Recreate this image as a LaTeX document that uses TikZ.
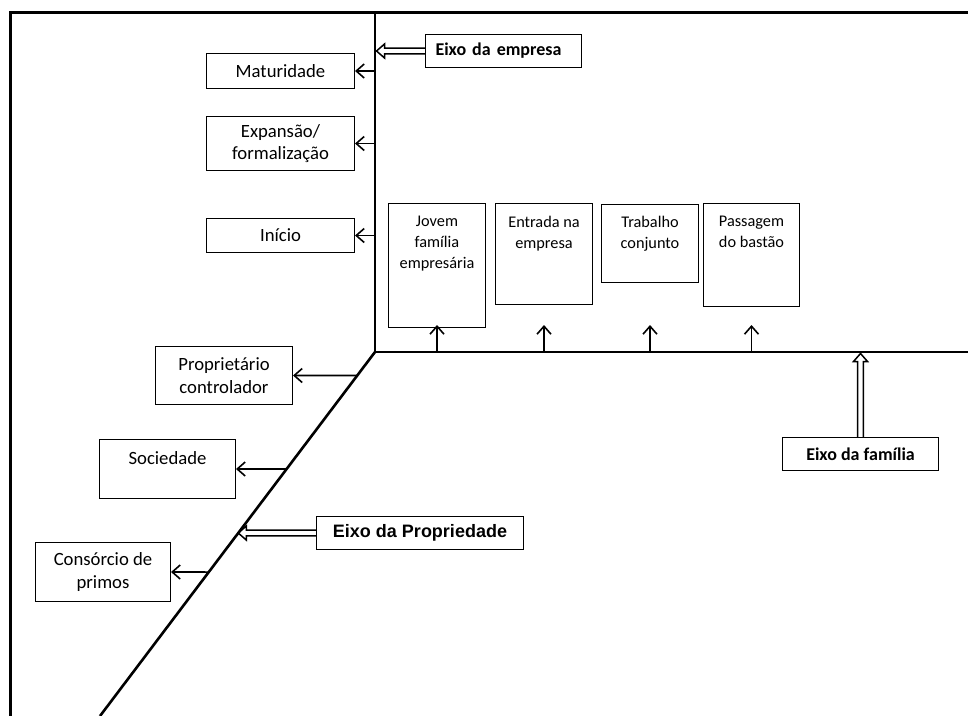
\documentclass[tikz,border=0pt]{standalone}
\usepackage{fontspec}
\setmainfont{Carlito}
\newfontfamily\arialfont{Liberation Sans}
\usetikzlibrary{arrows.meta,calc}

\tikzset{
  stage/.style={draw, line width=1pt, anchor=north west, inner sep=0pt, align=center, font=\fontsize{18.7}{22.5}\selectfont},
  stagetext/.style={anchor=north, inner sep=0pt, align=center, font=\fontsize{16.3}{21}\selectfont},
  eixo/.style={draw, line width=1pt, anchor=north west, inner sep=0pt, minimum height=33pt, font=\bfseries\fontsize{18}{22}\selectfont},
  axisline/.style={line width=2.6pt},
  smallarr/.style={-{Straight Barb[length=8pt,width=14pt,line width=1.6pt]}, line width=1.6pt},
  hollowarr/.style={line width=1.5pt, line join=miter, to path={
    ($(\tikztostart)!2.8pt!90:(\tikztotarget)$)
    -- ($($(\tikztotarget)!8pt!(\tikztostart)$)!2.8pt!90:(\tikztotarget)$)
    -- ($($(\tikztotarget)!8pt!(\tikztostart)$)!7pt!90:(\tikztotarget)$)
    -- (\tikztotarget)
    -- ($($(\tikztotarget)!8pt!(\tikztostart)$)!7pt!-90:(\tikztotarget)$)
    -- ($($(\tikztotarget)!8pt!(\tikztostart)$)!2.8pt!-90:(\tikztotarget)$)
    -- ($(\tikztostart)!2.8pt!-90:(\tikztotarget)$)}},
}

\begin{document}
\begin{tikzpicture}[x=1pt, y=-1pt]
  \useasboundingbox (0,0) rectangle (968,715);
  % frame and the three axes
  \draw[line width=3pt] (10,716) -- (10,12) -- (969,12);
  \coordinate (O) at (375,352);
  \coordinate (top) at (375,12);
  \coordinate (right) at (969,352);
  \coordinate (low) at (100,716);
  \coordinate (tips) at (0,325);
  \draw[axisline] (top) -- (O) -- (right);
  \draw[axisline] (O) -- (low);

  % eixo da empresa
  \node[eixo, text width=136pt, inner xsep=10pt, align=left] (emp) at (425,34) {Eixo da empresa};
  \node[stage, minimum width=148pt, minimum height=35pt] (mat) at (206,53) {Maturidade};
  \node[stage, minimum width=148pt, minimum height=54pt] (exp) at (206,116) {Expansão/\\formalização};
  \node[stage, minimum width=148pt, minimum height=34pt] (ini) at (206,218) {Início};
  \coordinate (empaxis) at ([xshift=1.5pt]O |- emp.west);
  \draw[hollowarr] (emp.west) to (empaxis);
  \draw[smallarr] (O |- mat.east) -- (mat.east);
  \draw[smallarr] (O |- exp.east) -- (exp.east);
  \draw[smallarr] (O |- ini.east) -- (ini.east);

  % eixo da familia
  \node[stage, minimum width=97pt, minimum height=124pt] (jovem) at (388,203) {};
  \node[stagetext] (jovem-t) at ([yshift=-13pt]jovem.north) {Jovem\\família\\empresária};
  \node[stage, minimum width=97pt, minimum height=101pt] (entrada) at (495,203) {};
  \node[stagetext] (entrada-t) at ([yshift=-13pt]entrada.north) {Entrada na\\empresa};
  \node[stage, minimum width=97pt, minimum height=78pt] (trab) at (601,204) {};
  \node[stagetext] (trab-t) at ([yshift=-12pt]trab.north) {Trabalho\\conjunto};
  \node[stage, minimum width=96pt, minimum height=103pt] (pass) at (703,203) {};
  \node[stagetext] (pass-t) at ([yshift=-13pt]pass.north) {Passagem\\do bastão};
  \node[eixo, minimum width=156pt] (fam) at (782,437) {Eixo da família};
  \coordinate (famaxis) at ([yshift=-1.5pt]fam.north |- O);
  \draw[hollowarr] (fam.north) to (famaxis);
  \foreach \s in {jovem, entrada, trab, pass}
    \draw[smallarr] (\s.south |- O) -- (\s.south |- tips);

  % eixo da propriedade
  \node[stage, minimum width=137pt, minimum height=58pt] (pc) at (155,346) {Proprietário\\controlador};
  \node[stage, minimum width=136pt, minimum height=59pt] (soc) at (99,439) {};
  \node[stagetext, font=\fontsize{18.7}{22.5}\selectfont] (soc-t) at ([yshift=-12pt]soc.north) {Sociedade};
  \node[stage, minimum width=135pt, minimum height=59pt] (cp) at (35,542) {Consórcio de\\primos};
  \node[eixo, minimum width=207pt, font=\arialfont\bfseries\fontsize{18}{22}\selectfont] (prop) at (316,516) {Eixo da Propriedade};
  \coordinate (propaxis) at (intersection of O--low and prop.west--prop.east);
  \draw[hollowarr] (prop.west) to (propaxis);
  \draw[smallarr] (intersection of O--low and pc.west--pc.east) -- (pc.east);
  \draw[smallarr] (intersection of O--low and soc.west--soc.east) -- (soc.east);
  \draw[smallarr] (intersection of O--low and cp.west--cp.east) -- (cp.east);
\end{tikzpicture}
\end{document}
